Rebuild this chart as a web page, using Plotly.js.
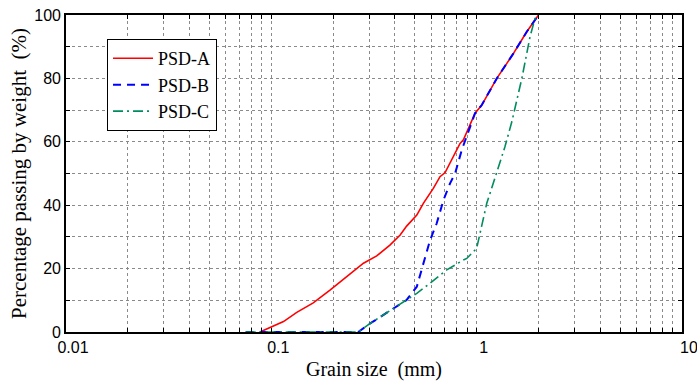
<!DOCTYPE html>
<html>
<head>
<meta charset="utf-8">
<script src="https://cdn.plot.ly/plotly-3.0.1.min.js"></script>
<style>html,body{margin:0;padding:0;background:#fff;}#chart{width:697px;height:383px;}</style>
</head>
<body>
<div id="chart"></div>
<script>
// Grain size (mm) and percentage passing (%)
const psdA_size = [0.088, 0.1146, 0.133, 0.160, 0.193, 0.251, 0.281, 0.326, 0.378, 0.424, 0.456, 0.511, 0.550, 0.615, 0.663, 0.702, 0.800, 0.830, 0.862, 0.982, 1.059, 1.162, 1.253, 1.511, 1.754, 2.0];
const psdA_pass = [0, 3.3, 6.2, 9.2, 13.2, 19.0, 21.7, 24.0, 27.4, 30.6, 33.4, 36.9, 40.6, 45.3, 49.0, 50.3, 57.4, 59.5, 60.6, 69.0, 71.6, 76.3, 80.0, 87.9, 94.7, 100];

const psdB_size = [0.075, 0.265, 0.303, 0.378, 0.456, 0.511, 0.550, 0.593, 0.639, 0.689, 0.742, 0.785, 0.846, 0.895, 0.982, 1.059, 1.162, 1.253, 1.511, 1.754, 2.0];
const psdB_pass = [0, 0, 2.7, 6.7, 10.1, 14.3, 21.7, 29.0, 34.3, 41.6, 46.9, 50.0, 57.4, 61.6, 69.0, 71.6, 76.3, 80.0, 87.9, 94.7, 100];

const psdC_size = [0.075, 0.265, 0.303, 0.378, 0.456, 0.511, 0.593, 0.715, 0.862, 0.895, 1.0, 1.12, 1.162, 1.253, 1.374, 1.483, 1.66, 1.82, 1.924, 2.0];
const psdC_pass = [0, 0, 2.7, 6.7, 10.1, 12.2, 15.4, 19.6, 22.7, 23.2, 26.4, 40.6, 43.8, 50.6, 58.5, 66.3, 80.0, 93.2, 98.9, 100];

const seriesNames = ["PSD-A", "PSD-B", "PSD-C"];

// Axis ticks
const decades = [0.01, 0.1, 1, 10];
const xTickVals = [];
const xTickText = [];
decades.forEach((d, i) => {
  const last = i === decades.length - 1;
  const steps = last ? [1] : [1,2,3,4,5,6,7,8,9];
  steps.forEach(m => {
    const v = +(m * d).toPrecision(3);
    xTickVals.push(v);
    xTickText.push(m === 1 ? String(d) : "");
  });
});
const yTickVals = [0,10,20,30,40,50,60,70,80,90,100];
const yTickText = yTickVals.map(v => v % 20 === 0 ? String(v) : "");

const traces = [
  {x: psdA_size, y: psdA_pass, name: seriesNames[0], mode: "lines",
   line: {color: "#ff0000", width: 1.6}},
  {x: psdB_size, y: psdB_pass, name: seriesNames[1], mode: "lines",
   line: {color: "#0000ff", width: 2, dash: "8px,6px"}},
  {x: psdC_size, y: psdC_pass, name: seriesNames[2], mode: "lines",
   line: {color: "#008c5f", width: 1.6, dash: "10px,4px,2px,4px"}}
];

const sans = "Liberation Sans, Arial, sans-serif";
const serif = "Liberation Serif, Times New Roman, serif";

const layout = {
  width: 697, height: 383,
  margin: {l: 66, r: 15, t: 15, b: 51},
  paper_bgcolor: "#ffffff",
  plot_bgcolor: "#ffffff",
  showlegend: true,
  legend: {
    x: 0.0666, y: 0.924, xanchor: "left", yanchor: "top",
    bgcolor: "#ffffff", bordercolor: "#000000", borderwidth: 1,
    font: {family: serif, size: 18, color: "#000"},
    tracegroupgap: 0, itemwidth: 40
  },
  xaxis: {
    type: "log",
    range: [-2, 1],
    tickmode: "array", tickvals: xTickVals, ticktext: xTickText,
    showgrid: true, gridcolor: "#8a8a8a", griddash: "dot", gridwidth: 1,
    showline: true, linecolor: "#000", linewidth: 1.8, mirror: "ticks",
    ticks: "inside", ticklen: 4, tickcolor: "#000", tickwidth: 1,
    tickfont: {family: sans, size: 16, color: "#000"},
    ticklabelshift: 7,
    ticklabeloverflow: "allow",
    zeroline: false,
    title: {text: "Grain size  (mm)", font: {family: serif, size: 20, color: "#000"}, standoff: 7}
  },
  yaxis: {
    range: [0, 100],
    tickmode: "array", tickvals: yTickVals, ticktext: yTickText,
    showgrid: true, gridcolor: "#8a8a8a", griddash: "dot", gridwidth: 1,
    showline: true, linecolor: "#000", linewidth: 1.8, mirror: "ticks",
    ticks: "inside", ticklen: 4, tickcolor: "#000", tickwidth: 1,
    tickfont: {family: sans, size: 16, color: "#000"},
    zeroline: false,
    title: {text: "Percentage passing by weight  (%)", font: {family: serif, size: 21, color: "#000"}, standoff: 2}
  }
};

Plotly.newPlot("chart", traces, layout, {staticPlot: true, displayModeBar: false});
</script>
</body>
</html>
